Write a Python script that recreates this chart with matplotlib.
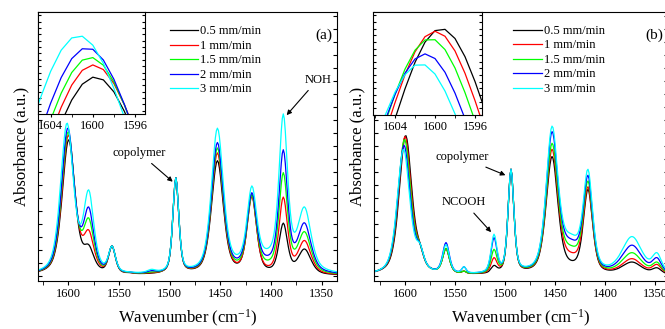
import numpy as np
import matplotlib.pyplot as plt
from matplotlib.ticker import MultipleLocator

plt.rcParams['font.family'] = ['Liberation Serif', 'DejaVu Serif']
plt.rcParams['mathtext.fontset'] = 'custom'
plt.rcParams['mathtext.rm'] = 'Liberation Serif'
plt.rcParams['mathtext.it'] = 'Liberation Serif:italic'

rates = ['0.5 mm/min', '1 mm/min', '1.5 mm/min', '2 mm/min', '3 mm/min']
colors = ['black', 'red', '#00ff00', 'blue', 'cyan']

# (a) band positions / widths (cm-1) and the heights read at each band, one row per rate
a_main_pos = [[1599.8], [1600.0], [1600.3], [1600.6], [1601.4]]
a_pos = [1580, 1557, 1539, 1518, 1494, 1453, 1419, 1402, 1388, 1367]
a_width = [15, 12, 8, 5, 10, 7, 14, 11, 60, 10, 15]
a_height = [
    [0.523, 0.120, 0.115, 0.012, 0.010, 0.377, 0.440, 0.300, 0.017, 0.190, 0.097],
    [0.542, 0.177, 0.115, 0.013, 0.012, 0.377, 0.473, 0.305, 0.040, 0.303, 0.136],
    [0.554, 0.223, 0.115, 0.014, 0.015, 0.377, 0.492, 0.310, 0.062, 0.397, 0.170],
    [0.569, 0.265, 0.115, 0.015, 0.020, 0.377, 0.513, 0.320, 0.081, 0.485, 0.204],
    [0.588, 0.331, 0.115, 0.015, 0.025, 0.377, 0.568, 0.346, 0.109, 0.623, 0.265],
]

# (b)
b_main_pos = [[1599.4], [1600.0], [1600.5], [1601.0], [1601.5]]
b_pos = [1585, 1577, 1559, 1541, 1522, 1511, 1494, 1453, 1434, 1417, 1373, 1348]
b_width = [15, 9, 5, 8, 5, 5, 7, 7, 14, 24, 11, 24, 11]
b_height = [
    [0.540, 0.125, 0.030, 0.105, 0.018, 0.008, 0.040, 0.410, 0.459, 0.060, 0.333, 0.053, 0.031],
    [0.536, 0.125, 0.030, 0.105, 0.018, 0.008, 0.070, 0.410, 0.487, 0.091, 0.343, 0.066, 0.044],
    [0.525, 0.125, 0.030, 0.105, 0.018, 0.008, 0.102, 0.410, 0.510, 0.117, 0.365, 0.089, 0.053],
    [0.502, 0.125, 0.040, 0.128, 0.035, 0.010, 0.147, 0.410, 0.555, 0.142, 0.387, 0.118, 0.070],
    [0.487, 0.125, 0.040, 0.120, 0.035, 0.010, 0.160, 0.410, 0.576, 0.162, 0.410, 0.151, 0.089],
]

wn = np.arange(1330, 1641, 1.0)
ETA = 0.5


def band(x, c, w):
    lor = 1.0 / (1.0 + (2 * (x - c) / w) ** 2)
    gau = np.exp(-4 * np.log(2) * ((x - c) / w) ** 2)
    return ETA * lor + (1 - ETA) * gau


def spectrum(pos, width, height):
    pos = np.array(pos)
    width = np.array(width)
    m = band(pos[:, None], pos[None, :], width[None, :])
    amp = np.clip(np.linalg.solve(m, np.array(height)), 0, None)
    return sum(a * band(wn, c, w) for a, c, w in zip(amp, pos, width))


fig = plt.figure(figsize=(6.65, 3.29), dpi=100)


def panel(rect, inset_rect, main_pos, pos, width, height, xlim, inset_xlim,
          inset_ylim, tag, leg_xy):
    ax = fig.add_axes(rect)
    ins = fig.add_axes(inset_rect)
    for i in range(5):
        y = spectrum(main_pos[i] + pos, width, height[i])
        ax.plot(wn, y, color=colors[i], lw=0.9, label=rates[i])
        ins.plot(wn, y, color=colors[i], lw=0.9)
    ax.set_xlim(*xlim)
    ax.set_ylim(-0.02, 1.015)
    ax.xaxis.set_major_locator(MultipleLocator(50))
    ax.xaxis.set_minor_locator(MultipleLocator(25))
    ax.yaxis.set_major_locator(MultipleLocator(0.05))
    ax.tick_params(axis='x', which='both', direction='out', length=3, labelsize=9, pad=2)
    ax.tick_params(axis='y', which='both', direction='in', length=3, left=True,
                   right=True, labelleft=False)
    ax.set_xlabel('Wavenumber (cm$^{-1}$)', fontsize=12, labelpad=6)
    ax.set_ylabel('Absorbance (a.u.)', fontsize=12, labelpad=6)
    ax.legend(loc='upper left', bbox_to_anchor=leg_xy, frameon=False, fontsize=9,
              handlelength=2.3, handletextpad=0.15, labelspacing=0.2, borderpad=0,
              borderaxespad=0)
    ax.text(0.955, 0.9, tag, transform=ax.transAxes, fontsize=11, ha='center')

    ins.set_xlim(*inset_xlim)
    ins.set_ylim(*inset_ylim)
    ins.xaxis.set_major_locator(MultipleLocator(4))
    ins.xaxis.set_minor_locator(MultipleLocator(2))
    ins.yaxis.set_major_locator(MultipleLocator(0.01))
    ins.tick_params(axis='x', which='both', direction='out', length=2.5, labelsize=9, pad=2)
    ins.tick_params(axis='y', which='both', direction='in', length=2, left=True,
                    right=True, labelleft=False)
    return ax


ax1 = panel([38 / 665, 48 / 329, 299 / 665, 269 / 329],
            [38 / 665, 215 / 329, 107 / 665, 102 / 329],
            a_main_pos, a_pos, a_width, a_height,
            (1630, 1335), (1605.2, 1595.05), (0.465, 0.625), '(a)', (0.44, 0.95))
ax2 = panel([374 / 665, 48 / 329, 294 / 665, 269 / 329],
            [373 / 665, 214 / 329, 109 / 665, 103 / 329],
            b_main_pos, b_pos, b_width, b_height,
            (1631, 1337), (1606.2, 1595.3), (0.41, 0.565), '(b)', (0.473, 0.952))

arrow = dict(arrowstyle='-|>', color='black', lw=0.8, mutation_scale=7)
ax1.annotate('NOH', xy=(1386.5, 0.61), xytext=(1354, 0.755), fontsize=9,
             ha='center', va='center', arrowprops=arrow)
ax1.annotate('copolymer', xy=(1495, 0.355), xytext=(1530, 0.473), fontsize=9,
             ha='center', va='center', arrowprops=arrow)
ax2.annotate('copolymer', xy=(1497, 0.383), xytext=(1543, 0.456), fontsize=9,
             ha='center', va='center', arrowprops=arrow)
ax2.annotate('NCOOH', xy=(1512, 0.16), xytext=(1541, 0.283), fontsize=9,
             ha='center', va='center', arrowprops=arrow)

fig.savefig('out.png', dpi=100)
